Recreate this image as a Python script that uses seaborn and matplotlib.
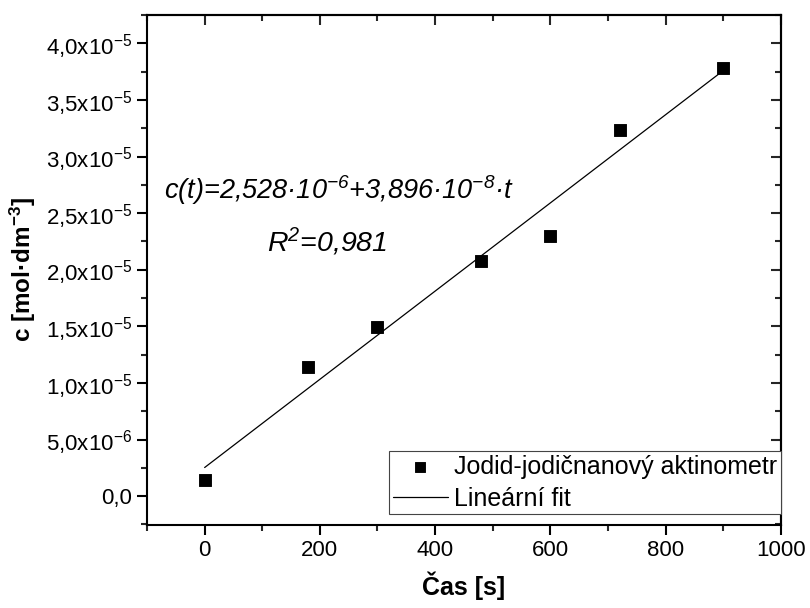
import math
import matplotlib
matplotlib.use('Agg')
import matplotlib.pyplot as plt
import matplotlib.ticker as mticker
import seaborn as sns

# measured points: time [s] vs concentration [mol/dm3]
cas = [0, 180, 300, 480, 600, 720, 900]
konc = [1.45e-6, 1.14e-5, 1.49e-5, 2.075e-5, 2.295e-5, 3.23e-5, 3.78e-5]

# linear fit endpoints (c = 2.528e-6 + 3.896e-8 * t)
fit_x = [0, 900]
fit_y = [2.528e-6, 3.759e-5]

legend_labels = ['Jodid-jodičnanový aktinometr', 'Lineární fit']
fit_text = 'c(t)=2,528·10$^{-6}$+3,896·10$^{-8}$·t'
r2_text = 'R$^{2}$=0,981'

sns.set_style('ticks')
plt.rcParams['font.family'] = ['Liberation Sans', 'DejaVu Sans']
plt.rcParams['mathtext.default'] = 'regular'
plt.rcParams['text.color'] = 'black'
plt.rcParams['axes.labelcolor'] = 'black'
plt.rcParams['axes.edgecolor'] = 'black'


def sci_fmt(v, pos):
    if abs(v) < 1e-12:
        return '0,0'
    e = int(math.floor(math.log10(abs(v)) + 1e-9))
    m = v / 10 ** e
    return ('%.1f' % m).replace('.', ',') + 'x10$^{%d}$' % e


fig = plt.figure(figsize=(8.1, 6.08), dpi=100)
ax = fig.add_axes([0.1815, 0.1365, 0.7825, 0.8388])

sns.lineplot(x=fit_x, y=fit_y, ax=ax, color='black', linewidth=0.9,
             label=legend_labels[1])
sns.scatterplot(x=cas, y=konc, ax=ax, marker='s', s=65, color='black',
                edgecolor='black', label=legend_labels[0], zorder=3)

ax.set_xlim(-100, 1000)
ax.set_ylim(-2.55e-6, 4.25e-5)
ax.xaxis.set_major_locator(mticker.MultipleLocator(200))
ax.xaxis.set_minor_locator(mticker.MultipleLocator(100))
ax.yaxis.set_major_locator(mticker.MultipleLocator(5e-6))
ax.yaxis.set_minor_locator(mticker.MultipleLocator(2.5e-6))
ax.yaxis.set_major_formatter(mticker.FuncFormatter(sci_fmt))

for sp in ax.spines.values():
    sp.set_linewidth(1.5)
    sp.set_visible(True)
ax.tick_params(which='major', direction='out', length=7, width=1.5,
               labelsize=16, colors='black')
ax.tick_params(which='minor', direction='out', length=4, width=1.5)

# mirrored axes with inward ticks and no labels
top = ax.secondary_xaxis('top')
top.xaxis.set_major_locator(mticker.MultipleLocator(200))
top.xaxis.set_minor_locator(mticker.MultipleLocator(100))
top.tick_params(which='major', direction='in', length=7, width=1.5, labeltop=False)
top.tick_params(which='minor', direction='in', length=4, width=1.5)
top.spines['top'].set_linewidth(1.5)
right = ax.secondary_yaxis('right')
right.yaxis.set_major_locator(mticker.MultipleLocator(5e-6))
right.yaxis.set_minor_locator(mticker.MultipleLocator(2.5e-6))
right.tick_params(which='major', direction='in', length=7, width=1.5, labelright=False)
right.tick_params(which='minor', direction='in', length=4, width=1.5)
right.spines['right'].set_linewidth(1.5)

ax.set_xlabel('Čas [s]', fontsize=18, fontweight='bold', labelpad=8)
ax.set_ylabel('c [mol·dm$^{-3}$]', fontsize=17.5, fontweight='bold', labelpad=6)

ax.text(233, 2.70e-5, fit_text, fontsize=19.5, style='italic', ha='center', va='center')
ax.text(212, 2.25e-5, r2_text, fontsize=20.5, style='italic', ha='center', va='center')

handles, labels = ax.get_legend_handles_labels()
order = [labels.index(l) for l in legend_labels]
leg = ax.legend([handles[i] for i in order], [labels[i] for i in order],
                loc='lower right', bbox_to_anchor=(1.0, 0.021), borderaxespad=0,
                fontsize=18, frameon=True, fancybox=False, framealpha=1,
                edgecolor='#444444', handlelength=2.2, handletextpad=0.25,
                borderpad=0.15, labelspacing=0.3, markerscale=0.9)
leg.get_frame().set_linewidth(0.8)

fig.savefig('out.png', dpi=100)
